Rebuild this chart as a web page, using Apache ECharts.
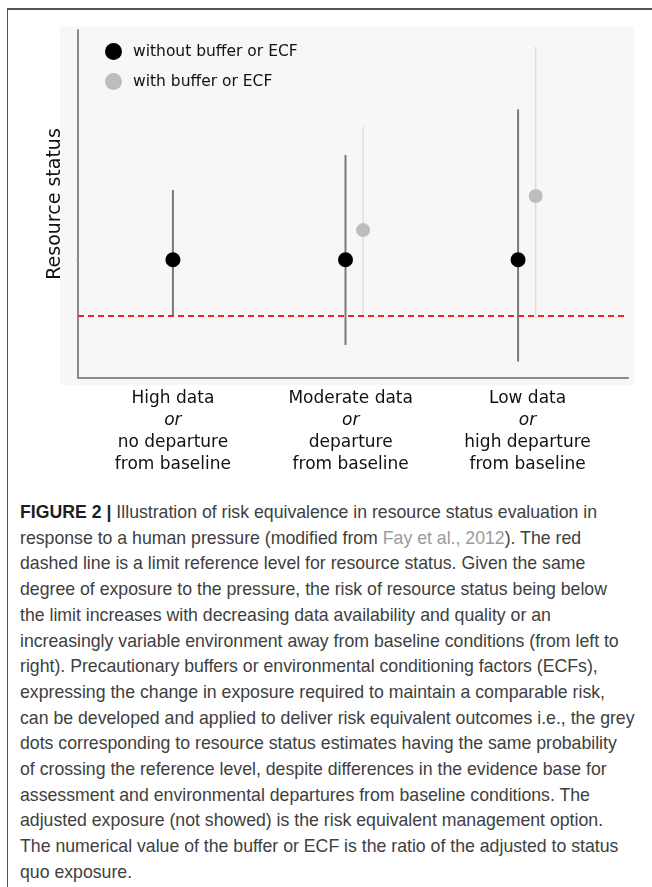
<!DOCTYPE html>
<html><head><meta charset="utf-8">
<script src="https://cdn.jsdelivr.net/npm/echarts@6.0.0/dist/echarts.min.js"></script>
<style>
html,body{margin:0;padding:0;background:#fff;width:652px;height:887px;overflow:hidden;}
#frame{position:absolute;left:7px;top:8px;width:660px;height:900px;border-left:1px solid #555;border-top:2px solid #555;}
#chart{position:absolute;left:0;top:0;width:652px;height:480px;}
#caption{position:absolute;left:20px;top:500px;font-family:"Liberation Sans",Arial,sans-serif;font-size:17.7px;line-height:25.7px;color:#404040;white-space:nowrap;}
#caption b{color:#1e1e1e;}
#caption .ref{color:#9a9a9a;}
</style></head>
<body>
<div id="frame"></div>
<div id="chart"></div>
<div id="caption">
<div><b>FIGURE 2 |</b> Illustration of risk equivalence in resource status evaluation in</div>
<div>response to a human pressure (modified from <span class="ref">Fay et al., 2012</span>). The red</div>
<div>dashed line is a limit reference level for resource status. Given the same</div>
<div>degree of exposure to the pressure, the risk of resource status being below</div>
<div>the limit increases with decreasing data availability and quality or an</div>
<div>increasingly variable environment away from baseline conditions (from left to</div>
<div>right). Precautionary buffers or environmental conditioning factors (ECFs),</div>
<div>expressing the change in exposure required to maintain a comparable risk,</div>
<div>can be developed and applied to deliver risk equivalent outcomes i.e., the grey</div>
<div>dots corresponding to resource status estimates having the same probability</div>
<div>of crossing the reference level, despite differences in the evidence base for</div>
<div>assessment and environmental departures from baseline conditions. The</div>
<div>adjusted exposure (not showed) is the risk equivalent management option.</div>
<div>The numerical value of the buffer or ECF is the ratio of the adjusted to status</div>
<div>quo exposure.</div>
</div>
<script>
// ---- data ----
const categoryPos = [1, 2, 3];
const categoryTop = ['High data', 'Moderate data', 'Low data'];
const categoryMid = ['or', 'or', 'or'];
const categoryLine3 = ['no departure', 'departure', 'high departure'];
const categoryLine4 = ['from baseline', 'from baseline', 'from baseline'];
const seriesNames = ['without buffer or ECF', 'with buffer or ECF'];
const withoutEstimate = [34, 34, 34];
const withoutLow = [17.8, 9.5, 4.7];
const withoutHigh = [54, 64.1, 77.2];
const withEstimate = [null, 42.5, 52.3];
const withLow = [null, 17.8, 17.8];
const withHigh = [null, 72.2, 95.2];
const referenceLevel = 17.8;

// ---- layout helpers (not data) ----
const dodge = 0.102;
const labelShift = [0, 0.03, 0.055];
const labelVals = categoryPos.map((c, i) => c + labelShift[i]);

const chart = echarts.init(document.getElementById('chart'), null, {renderer: 'canvas'});

function barItem(color, width) {
  return function (params, api) {
    const x = api.value(0), lo = api.value(1), hi = api.value(2);
    const p1 = api.coord([x, lo]);
    const p2 = api.coord([x, hi]);
    return {type: 'line', shape: {x1: p1[0], y1: p1[1], x2: p2[0], y2: p2[1]},
      style: {stroke: color, lineWidth: width}};
  };
}

const withoutBars = categoryPos.map((c, i) => [c, withoutLow[i], withoutHigh[i]]);
const withBars = categoryPos.map((c, i) => withEstimate[i] == null ? null : [c + dodge, withLow[i], withHigh[i]]).filter(d => d);
const withoutPts = categoryPos.map((c, i) => [c, withoutEstimate[i]]);
const withPts = categoryPos.map((c, i) => withEstimate[i] == null ? null : [c + dodge, withEstimate[i]]).filter(d => d);

const font = '"DejaVu Sans", Verdana, sans-serif';

chart.setOption({
  animation: false,
  backgroundColor: 'transparent',
  graphic: [{type: 'rect', z: -100, silent: true, shape: {x: 60, y: 26, width: 574, height: 359}, style: {fill: '#f7f7f7'}}],
  grid: {left: 78, right: 24, top: 30, bottom: 102},
  legend: {
    orient: 'vertical', left: 105, top: 43, padding: 0, itemWidth: 17, itemHeight: 17, itemGap: 13,
    icon: 'circle', data: seriesNames,
    textStyle: {fontFamily: font, fontSize: 15.5, color: '#111', padding: [0, 0, 0, 6]}
  },
  xAxis: {
    type: 'value', min: 0.45, max: 3.637,
    splitLine: {show: false},
    axisTick: {show: false},
    axisLine: {show: true, lineStyle: {color: '#8a8a8a', width: 2}},
    axisLabel: {
      customValues: labelVals,
      margin: 10,
      formatter: function (v) {
        let best = 0, d = 1e9;
        labelVals.forEach((lv, i) => { if (Math.abs(lv - v) < d) { d = Math.abs(lv - v); best = i; } });
        return '{n|' + categoryTop[best] + '}\n{i|' + categoryMid[best] + '}\n{n|' + categoryLine3[best] + '}\n{n|' + categoryLine4[best] + '}';
      },
      rich: {
        n: {fontFamily: font, fontSize: 17, lineHeight: 22, color: '#111'},
        i: {fontFamily: font, fontSize: 17, lineHeight: 22, color: '#111', fontStyle: 'italic'}
      }
    }
  },
  yAxis: {
    type: 'value', min: 0, max: 100,
    name: 'Resource status', nameLocation: 'middle', nameGap: 13,
    nameTextStyle: {fontFamily: font, fontSize: 19, color: '#111'},
    splitLine: {show: false},
    axisLabel: {show: false},
    axisTick: {show: true, customValues: [withoutEstimate[0]], length: 2, lineStyle: {color: '#bbb'}},
    axisLine: {show: true, lineStyle: {color: '#8a8a8a', width: 2}}
  },
  series: [
    {type: 'custom', name: 'withBars', renderItem: barItem('#dddddd', 1.5), data: withBars, z: 2, silent: true},
    {type: 'custom', name: 'withoutBars', renderItem: barItem('#7a7a7a', 2), data: withoutBars, z: 3, silent: true,
      markLine: {silent: true, symbol: 'none', label: {show: false}, z: 4,
        lineStyle: {color: '#ff1f1f', type: [6, 4], width: 2},
        data: [{yAxis: referenceLevel}]}},
    {type: 'scatter', name: seriesNames[1], data: withPts, symbolSize: 14, itemStyle: {color: '#bdbdbd', opacity: 1}, z: 5},
    {type: 'scatter', name: seriesNames[0], data: withoutPts, symbolSize: 15, itemStyle: {color: '#000', opacity: 1}, z: 6}
  ]
});
</script>
</body></html>
